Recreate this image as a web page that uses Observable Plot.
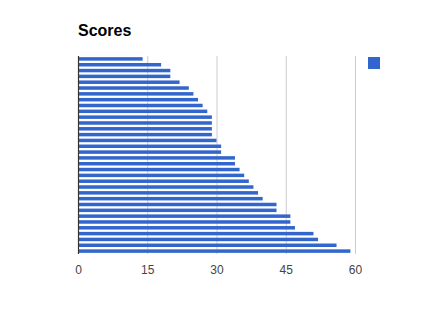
<!DOCTYPE html>
<html>
<head>
<meta charset="utf-8">
<script src="https://cdn.jsdelivr.net/npm/d3@7"></script>
<script src="https://cdn.jsdelivr.net/npm/@observablehq/plot@0.6"></script>
<style>
  html, body { margin: 0; padding: 0; background: #fff; }
  #wrap { position: relative; width: 436px; height: 311px; font-family: Arial, "Liberation Sans", sans-serif; }
  #title { position: absolute; left: 78px; top: 21px; font-size: 16px; font-weight: bold; color: #000; line-height: 19px; }
  #legend { position: absolute; left: 368px; top: 57px; width: 12px; height: 12px; background: #3366cc; }
  svg { position: absolute; left: 0; top: 0; }
</style>
</head>
<body>
<div id="wrap">
  <div id="title">Scores</div>
  <div id="legend"></div>
</div>
<script>
const title = "Scores";
const categories = d3.range(1, 35).map(String);
const scores = [14, 18, 20, 20, 22, 24, 25, 26, 27, 28, 29, 29, 29, 29, 30, 31, 31,
                34, 34, 35, 36, 37, 38, 39, 40, 43, 43, 46, 46, 47, 51, 52, 56, 59];
const xTicks = [0, 15, 30, 45, 60];
const gridTicks = [15, 30, 45, 60];

const data = categories.map((c, i) => ({category: c, score: scores[i]}));

const chart = Plot.plot({
  width: 436,
  height: 311,
  marginLeft: 78,
  marginRight: 81,
  marginTop: 56,
  marginBottom: 57,
  style: {fontFamily: 'Arial, "Liberation Sans", sans-serif', background: "transparent"},
  x: {domain: [0, 60]},
  y: {domain: categories, paddingInner: 0.4, paddingOuter: 0.2, round: false, axis: null},
  marks: [
    Plot.ruleX(gridTicks, {stroke: "#cccccc", strokeWidth: 1}),
    Plot.barX(data, {x: "score", y: "category", fill: "#3366cc"}),
    Plot.ruleX([0], {stroke: "#333333", strokeWidth: 1.2}),
    Plot.axisX({ticks: xTicks, tickSize: 0, tickPadding: 11, fontSize: 12, fill: "#444444", tickFormat: d => String(d), label: null})
  ]
});
document.getElementById("wrap").prepend(chart);
</script>
</body>
</html>
